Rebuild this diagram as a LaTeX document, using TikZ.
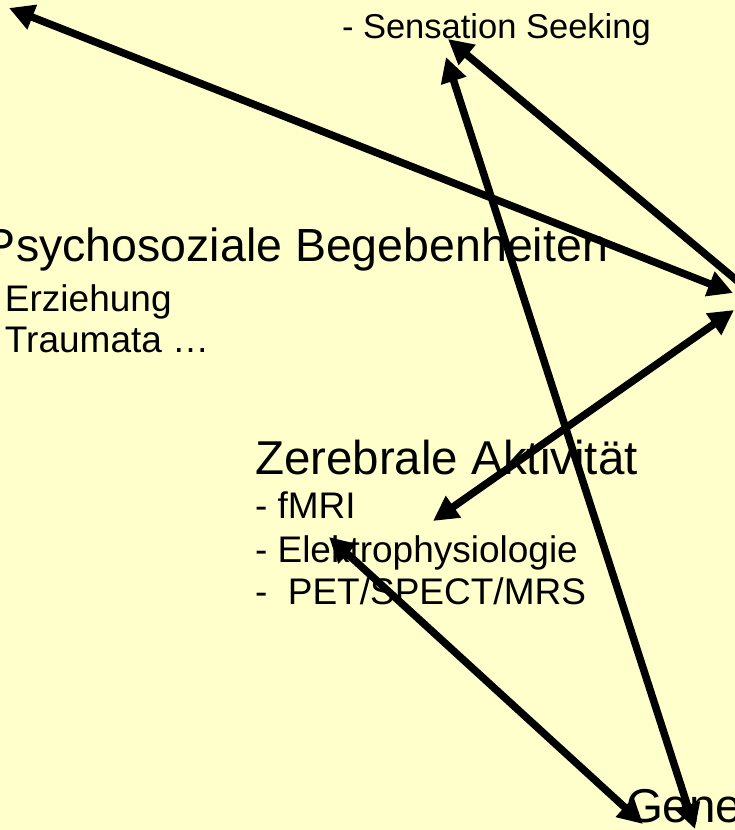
\documentclass[tikz,border=0pt]{standalone}
\usepackage{fontspec}
\setmainfont{Liberation Sans}
\usetikzlibrary{arrows.meta}
\definecolor{bg}{HTML}{FFFFCC}
\begin{document}
\begin{tikzpicture}[x=1pt,y=-1pt,
  txt/.style={anchor=base west, inner sep=0pt, outer sep=0pt, font=\fontsize{37}{44}\selectfont},
  small/.style={anchor=base west, inner sep=0pt, outer sep=0pt, font=\fontsize{34.5}{41}\selectfont},
  big/.style={anchor=base west, inner sep=0pt, outer sep=0pt, font=\fontsize{47.5}{57}\selectfont},
  dbl/.style={line width=7.5pt, {Triangle[length=25pt,width=25pt]}-{Triangle[length=25pt,width=25pt]}}]
\fill[bg] (0,0) rectangle (735,830);
\useasboundingbox (0,0) rectangle (735,830);
\clip (0,0) rectangle (735,830);
% texts
\node[small] (sens) at (342,38) {- Sensation Seeking};
\node[big, font=\fontsize{46.5}{56}\selectfont] (psy) at (-15,261) {Psychosoziale Begebenheiten};
\node[txt] (erz) at (5,311) {Erziehung};
\node[txt] (trau) at (5,352) {Traumata …};
\node[big] (zer) at (255,474) {Zerebrale Aktivität};
\node[txt] (fmri) at (255,518) {- fMRI};
\node[txt] (elek) at (255,562) {- Elektrophysiologie};
\node[txt] (pet) at (255,604) {-\ \ PET/SPECT/MRS};
\node[big] (gene) at (626,822) {Gene};
% connector end points
\coordinate (tl) at (9,8);
\coordinate (r1) at (733,293);
\coordinate (r2) at (734,310);
\coordinate (rout) at (765,304);
\coordinate (s1) at (448,39);
\coordinate (s2) at (446,57);
\coordinate (g1) at (695,829);
\coordinate (g2) at (643,824);
\coordinate (z1) at (433,521);
\coordinate (e1) at (329,537);
% connectors
\draw[dbl] (tl) -- (r1);
\draw[dbl] (s1) -- (rout);
\draw[dbl] (s2) -- (g1);
\draw[dbl] (r2) -- (z1);
\draw[dbl] (e1) -- (g2);
\end{tikzpicture}
\end{document}
